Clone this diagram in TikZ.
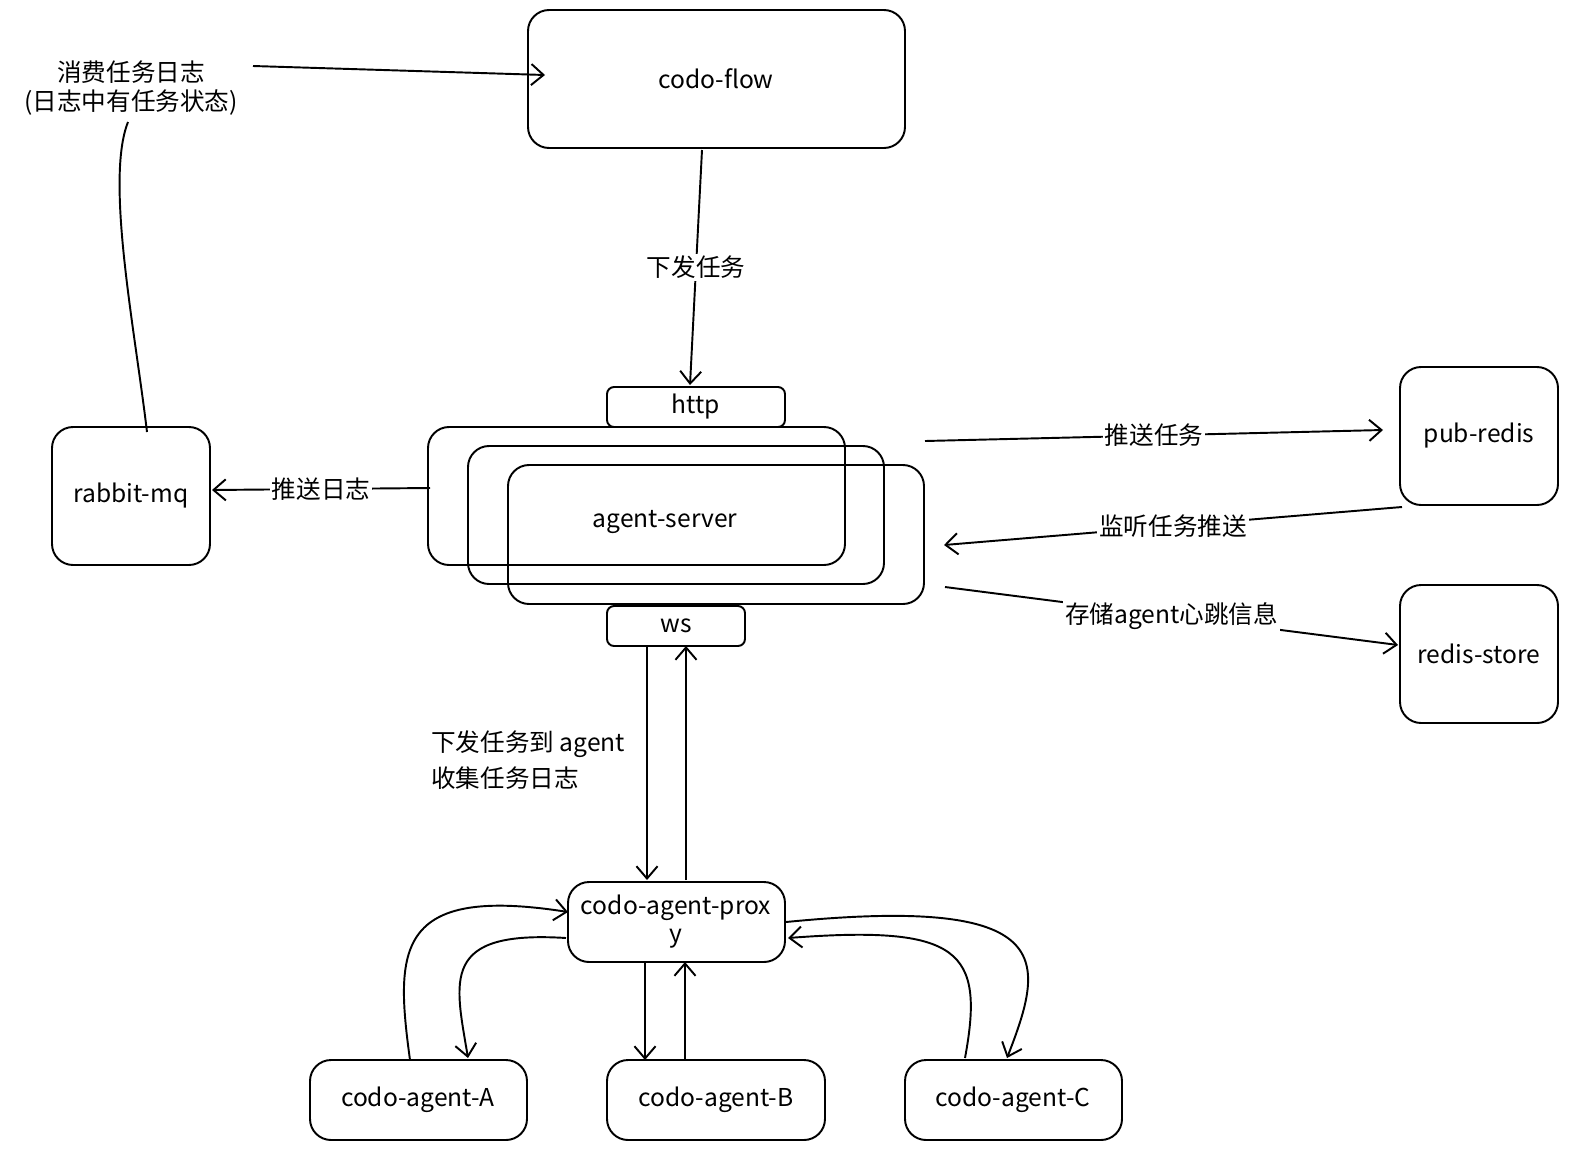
\documentclass[tikz,border=0pt]{standalone}
\usepackage{fontspec}
\setmainfont{Noto Sans CJK SC}
\usetikzlibrary{positioning,arrows.meta}

\begin{document}
\begin{tikzpicture}[x=0.02cm, y=-0.02cm,
    >={Straight Barb[length=7pt,width=12pt]},
    every node/.style={font=\fontsize{14}{17}\selectfont},
    box/.style={draw, line width=1.1pt, rounded corners=12pt, inner sep=0pt},
    port/.style={draw, line width=1.1pt, rounded corners=4pt, inner sep=0pt},
    conn/.style={line width=1.1pt},
    lbl/.style={fill=white, inner sep=1pt}
  ]
  \useasboundingbox (0,0) rectangle (1582,1160);

  % boxes
  \draw[box] (528,10) rectangle (905,148);
  \node (flow) at (716,79) {codo-flow};
  \coordinate (flowS) at (702,150);
  \coordinate (flowW) at (545,75);

  \draw[port] (607,387) rectangle (785,427);
  \node (http) at (696,407) {http};

  % agent-server (stacked)
  \draw[box] (428,427) rectangle (845,565);
  \draw[box] (468,446) rectangle (884,584);
  \draw[box] (508,465) rectangle (924,604);
  \node (server) at (665,522) {agent-server};

  \draw[port] (607,606) rectangle (745,646);
  \node (ws) at (676,626) {ws};

  \draw[box] (52,427) rectangle (210,565);
  \node (mq) at (131,496) {rabbit-mq};

  \draw[box] (1400,367) rectangle (1558,505);
  \node (pub) at (1479,436) {pub-redis};

  \draw[box] (1400,585) rectangle (1558,723);
  \node (store) at (1479,654) {redis-store};

  \draw[box] (568,882) rectangle (785,962);
  \node[align=center, font=\fontsize{14}{16}\selectfont] (proxy) at (676,922) {codo-agent-prox\\y};

  \draw[box] (310,1060) rectangle (527,1140);
  \node (agA) at (418,1100) {codo-agent-A};
  \draw[box] (607,1060) rectangle (825,1140);
  \node (agB) at (716,1100) {codo-agent-B};
  \draw[box] (905,1060) rectangle (1122,1140);
  \node (agC) at (1013,1100) {codo-agent-C};

  % labels
  \node[align=center, font=\fontsize{14}{17}\selectfont] (consume) at (131,88) {消费任务日志\\(日志中有任务状态)};
  \node[align=left, anchor=north west, font=\fontsize{14}{20}\selectfont] (wslbl) at (425,725) {下发任务到 agent\\收集任务日志};

  % connectors
  \draw[conn,->] (flowS) -- (690,385) node[pos=0.5, lbl] {下发任务};
  \draw[conn,->] (253,66) -- (flowW);
  \draw[conn] (147,432) .. controls (135,330) and (105,180) .. (128,122);
  \draw[conn,->] (430,488) -- (212,490) node[pos=0.5, lbl] {推送日志};
  \draw[conn,->] (925,441) -- (1383,430) node[pos=0.5, lbl] {推送任务};
  \draw[conn,->] (1402,507) -- (944,545) node[pos=0.5, lbl] {监听任务推送};
  \draw[conn,->] (945,587) -- (1398,645) node[pos=0.5, lbl] {存储agent心跳信息};

  \draw[conn,->] (647,646) -- (647,880);
  \draw[conn,->] (686,880) -- (686,646);

  \draw[conn,->] (410,1060) .. controls (395,950) and (395,885) .. (568,912);
  \draw[conn,->] (566,938) .. controls (440,930) and (455,980) .. (468,1058);
  \draw[conn,->] (645,962) -- (645,1060);
  \draw[conn,->] (685,1060) -- (685,962);
  \draw[conn,->] (786,922) .. controls (1060,895) and (1045,960) .. (1007,1058);
  \draw[conn,->] (965,1058) .. controls (985,950) and (960,925) .. (788,938);
\end{tikzpicture}
\end{document}
